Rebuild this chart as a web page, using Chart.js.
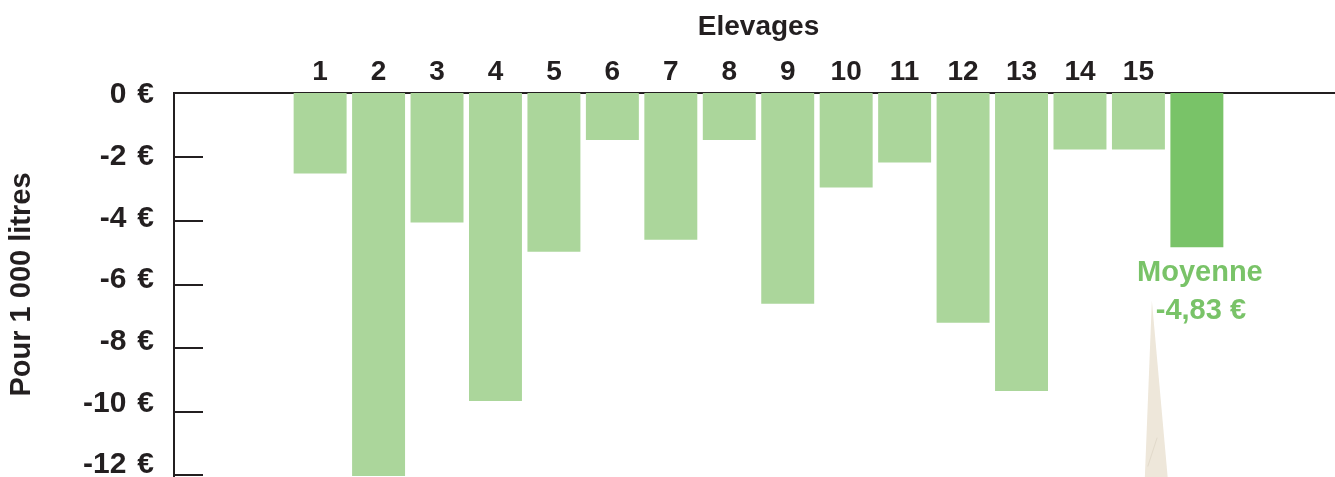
<!DOCTYPE html>
<html lang="fr">
<head>
<meta charset="utf-8">
<title>Elevages</title>
<script src="https://cdn.jsdelivr.net/npm/chart.js@4"></script>
<style>
    html, body { margin: 0; padding: 0; background: #fff; overflow: hidden; }
    #wrap { width: 1345px; height: 477px; }
</style>
</head>
<body>
<div id="wrap"><canvas id="chart" width="1345" height="477"></canvas></div>
<script>
// --- DONNÉES ---
const elevages = ['1', '2', '3', '4', '5', '6', '7', '8', '9', '10', '11', '12', '13', '14', '15'];
const valeurs = [-2.52, -12, -4.06, -9.65, -4.97, -1.47, -4.6, -1.47, -6.6, -2.96, -2.18, -7.2, -9.34, -1.77, -1.77];
const moyenne = -4.83;
const yTicks = [0, -2, -4, -6, -8, -10, -12];
const videsAvant = 2;
const videsApres = 2;

const VERT_CLAIR = '#abd69b';
const VERT = '#79c368';
const TEXTE = '#231f20';
const FONT = "'Liberation Sans', Arial, Helvetica, sans-serif";

// libellés : colonnes vides, élevages, moyenne (sans libellé), colonnes vides
const labels = [
    ...Array(videsAvant).fill(''),
    ...elevages,
    '',
    ...Array(videsApres).fill('')
];
const data = [
    ...Array(videsAvant).fill(null),
    ...valeurs,
    moyenne,
    ...Array(videsApres).fill(null)
];
const idxMoyenne = videsAvant + elevages.length;
const couleurs = data.map((v, i) => i === idxMoyenne ? VERT : VERT_CLAIR);

// petites graduations vers l'intérieur + annotation de la moyenne
const decorPlugin = {
    id: 'decor',
    afterDraw(chart) {
        const { ctx, chartArea } = chart;
        const x = chart.scales.x;
        const y = chart.scales.y;

        ctx.save();
        ctx.strokeStyle = TEXTE;
        ctx.lineWidth = 2;
        yTicks.forEach(v => {
            const py = Math.min(Math.round(y.getPixelForValue(v)), chartArea.bottom - 1);
            ctx.beginPath();
            ctx.moveTo(chartArea.left, py);
            ctx.lineTo(chartArea.left + 29, py);
            ctx.stroke();
        });

        // pointe beige sous le libellé
        const xc = x.getPixelForValue(idxMoyenne);
        const w = x.getPixelForValue(idxMoyenne + 1) - xc;
        ctx.fillStyle = '#eee7da';
        ctx.beginPath();
        ctx.moveTo(xc - 0.77 * w, y.getPixelForValue(-6.5));
        ctx.lineTo(xc - 0.5 * w, chartArea.bottom + 1);
        ctx.lineTo(xc - 0.89 * w, chartArea.bottom + 1);
        ctx.closePath();
        ctx.fill();
        ctx.strokeStyle = '#e2dacb';
        ctx.lineWidth = 1;
        ctx.beginPath();
        ctx.moveTo(xc - 0.68 * w, y.getPixelForValue(-10.8));
        ctx.lineTo(xc - 0.84 * w, y.getPixelForValue(-11.7));
        ctx.stroke();

        // texte de la moyenne
        ctx.fillStyle = VERT;
        ctx.font = `bold 29px ${FONT}`;
        ctx.textAlign = 'center';
        ctx.textBaseline = 'middle';
        ctx.fillText('Moyenne', xc + 3, y.getPixelForValue(-5.65));
        ctx.fillText(moyenne.toFixed(2).replace('.', ',') + ' €', xc + 4, y.getPixelForValue(-6.83));
        ctx.restore();
    }
};

Chart.defaults.font.family = FONT;
Chart.defaults.font.weight = 'bold';
Chart.defaults.color = TEXTE;

new Chart(document.getElementById('chart'), {
    type: 'bar',
    data: {
        labels: labels,
        datasets: [{
            data: data,
            backgroundColor: couleurs,
            borderWidth: 0,
            barPercentage: 0.906,
            categoryPercentage: 1,
            yAxisID: 'y'
        }]
    },
    options: {
        responsive: false,
        animation: false,
        layout: { padding: { left: 0, right: 2, top: 0, bottom: 1 } },
        plugins: { legend: { display: false }, tooltip: { enabled: false } },
        scales: {
            x: {
                position: 'top',
                grid: { display: false, drawTicks: false },
                border: { display: true, color: TEXTE, width: 2 },
                ticks: { font: { size: 28 }, padding: 4, maxRotation: 0, autoSkip: false },
                title: {
                    display: true,
                    text: 'Elevages',
                    font: { size: 28 },
                    padding: { top: 10, bottom: 0 }
                },
                afterFit: scale => {
                    scale.height = 93;
                    scale.paddingLeft = 0;
                    scale.paddingRight = 0;
                }
            },
            // axe des libellés (légèrement décalé comme dans l'original)
            yl: {
                position: 'left',
                min: -12.357,
                max: 0.065,
                grid: { display: false, drawTicks: false },
                border: { display: true, color: TEXTE, width: 2 },
                afterBuildTicks: scale => { scale.ticks = yTicks.map(v => ({ value: v })); },
                ticks: {
                    font: { size: 30 },
                    padding: 20,
                    callback: v => `${v} \u200A€`
                },
                title: {
                    display: true,
                    text: 'Pour 1 000 litres',
                    font: { size: 29 },
                    padding: { top: 5, bottom: 0 }
                },
                afterFit: scale => {
                    scale.width = 174;
                    scale.paddingTop = 0;
                    scale.paddingBottom = 0;
                }
            },
            y: {
                display: false,
                min: -12,
                max: 0
            }
        }
    },
    plugins: [decorPlugin]
});
</script>
</body>
</html>
